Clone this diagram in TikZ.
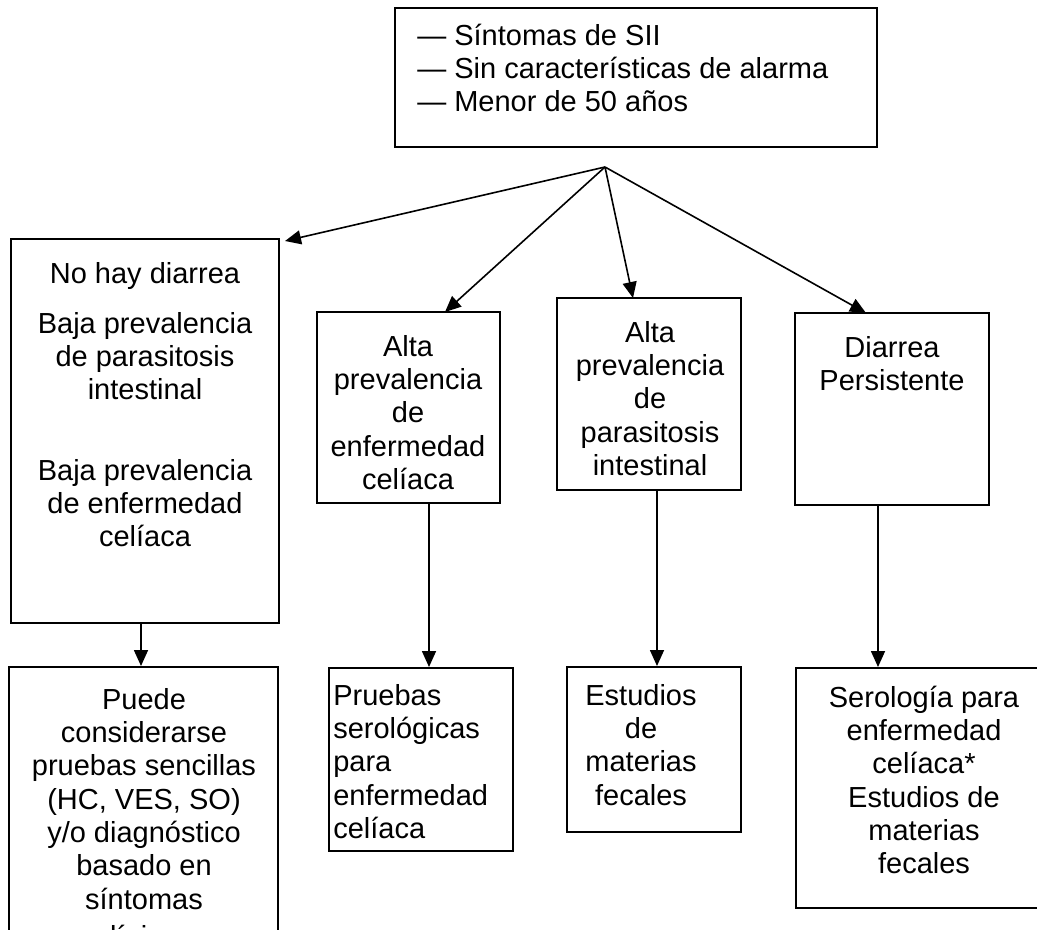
\documentclass[tikz,border=0pt]{standalone}
\usepackage{fontspec}
\setmainfont{Liberation Sans}
\usetikzlibrary{arrows.meta,fit}
\begin{document}
\begin{tikzpicture}[x=0.75pt,y=-0.75pt,
  box/.style={draw, line width=1.5pt, inner sep=0pt},
  arr/.style={line width=1.2pt, -{Triangle[length=12pt,width=10.5pt]}},
  txt/.style={font=\fontsize{21.75pt}{25pt}\selectfont, inner sep=0pt, align=center, anchor=north},
  txtl/.style={txt, align=left, anchor=north west}]
\path[use as bounding box, clip] (0,0) rectangle (1037,929);
% boxes
\node[box, fit={(395,8) (877,147)}] (top) {};
\node[box, fit={(11,239) (279,623)}] (b1) {};
\node[box, fit={(317,312) (500,503)}] (b2) {};
\node[box, fit={(557,298) (741,490)}] (b3) {};
\node[box, fit={(795,313) (989,505)}] (b4) {};
\node[box, fit={(9,667) (278,990)}] (c1) {};
\node[box, fit={(329,668) (513,851)}] (c2) {};
\node[box, fit={(567,667) (741,832)}] (c3) {};
\node[box, fit={(796,668) (1090,908)}] (c4) {};
% texts
\node[txtl] (ttop) at (417,45-23.33) {\strut — Síntomas de SII\\— Sin características de alarma\\— Menor de 50 años};
\node[txt] (tb1a) at (145,283-23.33) {\strut No hay diarrea};
\node[txt] (tb1b) at (145,333-23.33) {\strut Baja prevalencia\\de parasitosis\\intestinal};
\node[txt] (tb1c) at (145,480-23.33) {\strut Baja prevalencia\\de enfermedad\\celíaca};
\node[txt] (tb2) at (408,356-23.33) {\strut Alta\\prevalencia\\de\\enfermedad\\celíaca};
\node[txt] (tb3) at (650,342-23.33) {\strut Alta\\prevalencia\\de\\parasitosis\\intestinal};
\node[txt] (tb4) at (892,357-23.33) {\strut Diarrea\\Persistente};
\node[txt] (tc1) at (144,709-23.33) {\strut Puede\\considerarse\\pruebas sencillas\\(HC, VES, SO)\\y/o diagnóstico\\basado en\\síntomas};
\node[txt] (tc1b) at (144,946-23.33) {\strut clínicos};
\node[txtl] (tc2) at (333,705-23.33) {\strut Pruebas\\serológicas\\para\\enfermedad\\celíaca};
\node[txt] (tc3) at (641,705-23.33) {\strut Estudios\\de\\materias\\fecales};
\node[txt] (tc4) at (924,707-23.33) {\strut Serología para\\enfermedad\\celíaca*\\Estudios de\\materias\\fecales};
% connectors
\coordinate (apex) at (605,167);
\coordinate (tip1) at (285,241);
\coordinate (tip2) at (445,312);
\coordinate (tip3) at (633,298);
\coordinate (tip4) at (866,313);
\draw[arr] (apex) -- (tip1);
\draw[arr] (apex) -- (tip2);
\draw[arr] (apex) -- (tip3);
\draw[arr] (apex) -- (tip4);
\coordinate (x1) at (141,0);
\coordinate (x2) at (429,0);
\coordinate (x3) at (657,0);
\coordinate (x4) at (878,0);
\draw[arr] (b1.south -| x1) -- (c1.north -| x1);
\draw[arr] (b2.south -| x2) -- (c2.north -| x2);
\draw[arr] (b3.south -| x3) -- (c3.north -| x3);
\draw[arr] (b4.south -| x4) -- (c4.north -| x4);
\end{tikzpicture}
\end{document}
